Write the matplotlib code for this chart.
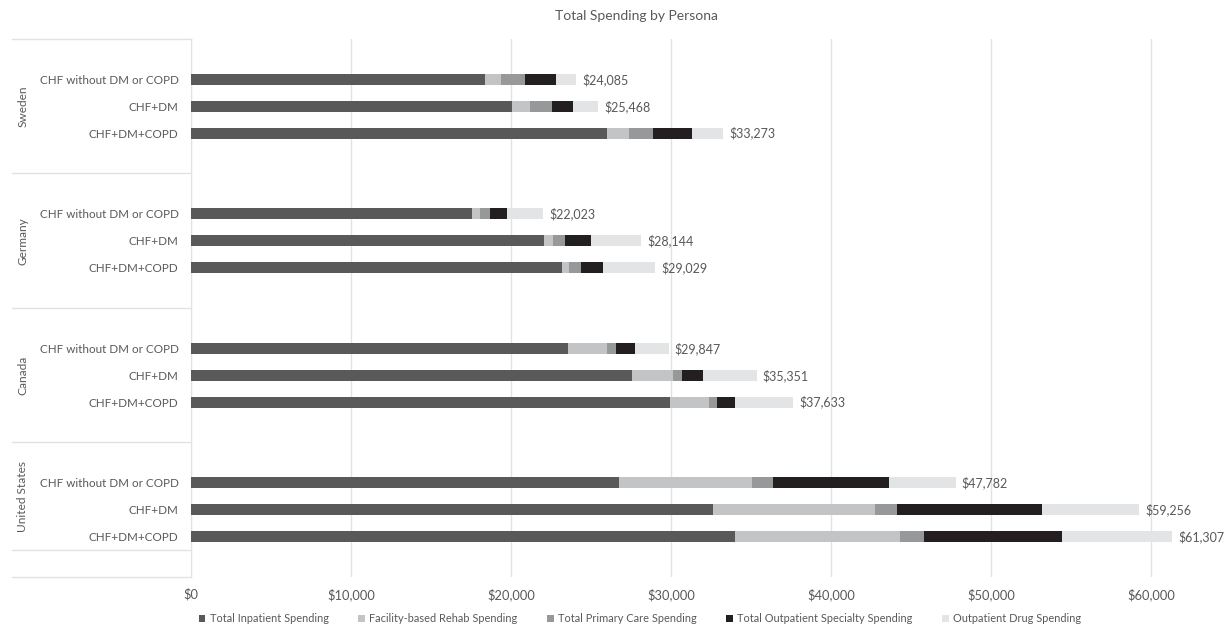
import matplotlib
matplotlib.use("Agg")
from matplotlib import pyplot as plt
from matplotlib.patches import Patch
from matplotlib.ticker import FuncFormatter
import matplotlib.transforms as mtransforms

plt.rcParams['font.family'] = ['Lato', 'DejaVu Sans']

countries = ["Sweden", "Germany", "Canada", "United States"]
personas = ["CHF without DM or COPD", "CHF+DM", "CHF+DM+COPD"]

# spending per row, order: Sweden x3, Germany x3, Canada x3, US x3
inpatient = [18400, 20070, 26000, 17580, 22050, 23170, 23560, 27580, 29960, 26730, 32600, 34000]
rehab = [1000, 1130, 1400, 480, 550, 430, 2460, 2520, 2440, 8350, 10150, 10300]
primary = [1500, 1370, 1500, 640, 800, 800, 560, 600, 500, 1320, 1400, 1530]
specialty = [1900, 1310, 2400, 1070, 1600, 1350, 1170, 1300, 1100, 7200, 9050, 8600]
drug = [1285, 1588, 1973, 2253, 3144, 3279, 2097, 3351, 3633, 4182, 6056, 6877]
totals = [24085, 25468, 33273, 22023, 28144, 29029, 29847, 35351, 37633, 47782, 59256, 61307]

series_names = ["Total Inpatient Spending", "Facility-based Rehab Spending",
                "Total Primary Care Spending", "Total Outpatient Specialty Spending",
                "Outpatient Drug Spending"]
colors = ["#595959", "#C3C4C6", "#97989A", "#231F20", "#E3E4E5"]

txt = "#595959"
grid_c = "#E2E2E2"

fig = plt.figure(figsize=(12.28, 6.27), dpi=100)
ax = fig.add_axes([191 / 1228, 1 - 577 / 627, 1024 / 1228, 538 / 627])

# row slots: each country gets a blank row before and after its personas
ypos = []
for g in range(len(countries)):
    for k in range(len(personas)):
        ypos.append(g * 5 + 1 + k)

left = [0] * len(ypos)
for name, vals, col in zip(series_names, [inpatient, rehab, primary, specialty, drug], colors):
    ax.barh(ypos, vals, left=left, height=0.4, color=col, label=name, zorder=3)
    left = [a + b for a, b in zip(left, vals)]

for y, x, t in zip(ypos, left, totals):
    ax.annotate("${:,}".format(t), (x, y), xytext=(4.5, 0), textcoords="offset points",
                va="center", ha="left", fontsize=9, color=txt)

ax.set_xlim(0, 64000)
ax.set_ylim(19.5, -0.5)
ax.set_xticks(range(0, 60001, 10000))
ax.xaxis.set_major_formatter(FuncFormatter(lambda v, p: "${:,.0f}".format(v)))
ax.set_yticks(ypos)
ax.set_yticklabels(personas * len(countries))
ax.tick_params(axis="y", length=0, pad=9, labelsize=8.4, labelcolor=txt)
ax.tick_params(axis="x", length=0, pad=8, labelsize=9.3, labelcolor=txt)
ax.grid(axis="x", color=grid_c, linewidth=1, zorder=0)
for s in ["top", "right", "bottom"]:
    ax.spines[s].set_visible(False)
ax.spines["left"].set_color(grid_c)

# category group lines and labels on the left
trans = mtransforms.blended_transform_factory(ax.transAxes, ax.transData)
x0 = (12 - 191) / 1024
for yb in [-0.5, 4.5, 9.5, 14.5, 18.5, 19.5]:
    ax.plot([x0, 0], [yb, yb], color=grid_c, linewidth=1, transform=trans, clip_on=False)
group_mid = [2, 7, 12, 16.5]
for c, ym in zip(countries, group_mid):
    ax.text((23 - 191) / 1024, ym, c, rotation=90, ha="center", va="center",
            fontsize=8.6, color=txt, transform=trans)

fig.text(636 / 1228, 1 - 16 / 627, "Total Spending by Persona", ha="center", va="center",
         fontsize=10, color=txt)

handles = [Patch(facecolor=c, edgecolor="none", label=n) for n, c in zip(series_names, colors)]
fig.legend(handles=handles, loc="center", bbox_to_anchor=(640 / 1228, 1 - 619 / 627), ncol=5,
           frameon=False, fontsize=7.9, labelcolor=txt, handlelength=0.6, handleheight=0.6,
           handletextpad=0.4, columnspacing=2.7)

fig.savefig("out.png", dpi=100)
